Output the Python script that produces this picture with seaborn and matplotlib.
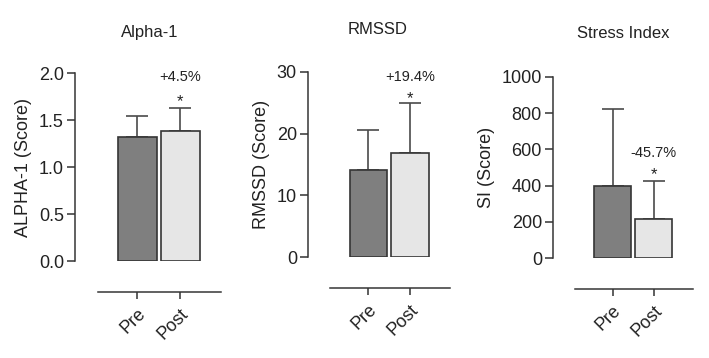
import matplotlib
matplotlib.use("Agg")
import matplotlib.pyplot as plt
import seaborn as sns
import pandas as pd

# ─── data ────────────────────────────────────────────────────────────────────
groups = ["Pre", "Post"]

alpha_mean = [1.32, 1.38]
alpha_sd = [0.22, 0.25]

rmssd_mean = [14.1, 16.9]
rmssd_sd = [6.5, 8.0]

si_mean = [400, 215]
si_sd = [420, 210]

titles = ["Alpha-1", "RMSSD", "Stress Index"]
ylabels = ["ALPHA-1 (Score)", "RMSSD (Score)", "SI (Score)"]
changes = ["+4.5%", "+19.4%", "-45.7%"]
yticks = [[0, 0.5, 1.0, 1.5, 2.0], [0, 10, 20, 30], [0, 200, 400, 600, 800, 1000]]
ytick_fmt = ["{:.1f}", "{:.0f}", "{:.0f}"]

sns.set_style("ticks")
plt.rcParams["font.family"] = ["Liberation Sans", "DejaVu Sans"]
plt.rcParams["text.color"] = "#222222"
plt.rcParams["axes.labelcolor"] = "#222222"
plt.rcParams["xtick.color"] = "#333333"
plt.rcParams["ytick.color"] = "#333333"
plt.rcParams["xtick.labelcolor"] = "#222222"
plt.rcParams["ytick.labelcolor"] = "#222222"

fig = plt.figure(figsize=(7.09, 3.58), dpi=100)

# panel boxes in figure fractions: left, bottom, width, height
boxes = [
    [0.1058, 0.2709, 0.206, 0.525],
    [0.4344, 0.2821, 0.200, 0.517],
    [0.7800, 0.2793, 0.197, 0.506],
]
title_pos = [(150, 32), (378, 30), (623, 33)]
# annotation heights (label, star) in data units
annot_y = [(1.96, 1.70), (29.2, 25.6), (580, 460)]

panels = [
    (alpha_mean, alpha_sd),
    (rmssd_mean, rmssd_sd),
    (si_mean, si_sd),
]

edge = "#353535"
for i, (means, sds) in enumerate(panels):
    ax = fig.add_axes(boxes[i])
    df = pd.DataFrame({"group": groups, "value": means})
    sns.barplot(data=df, x="group", y="value", hue="group",
                palette=["#7f7f7f", "#e6e6e6"], width=0.9,
                edgecolor=edge, linewidth=1.2, legend=False, ax=ax)
    # upper-only SD bars
    ax.errorbar([0, 1], means, yerr=[[0, 0], sds], fmt="none",
                ecolor="#4a4a4a", elinewidth=1.2, capsize=8, capthick=1.2,
                zorder=1)
    for bar in ax.patches:
        bar.set_zorder(2)

    # spines first (moving a spine resets the ticks)
    sns.despine(ax=ax)
    top = yticks[i][-1]
    for s in ["left", "bottom"]:
        ax.spines[s].set_color(edge)
        ax.spines[s].set_linewidth(1.1)
    ax.spines["bottom"].set_position(("outward", 22))
    ax.spines["left"].set_bounds(0, top)
    ax.spines["bottom"].set_bounds(-0.92, 1.95)

    ax.set_xlim(-1.45, 1.95)
    ax.set_ylim(0, top)
    ax.tick_params(axis="y", length=6, width=1.1, pad=2, labelsize=13)
    ax.tick_params(axis="x", length=5, width=1.1, pad=5, labelsize=13)
    ax.set_yticks(yticks[i])
    ax.set_yticklabels([ytick_fmt[i].format(t) for t in yticks[i]], fontsize=13)
    ax.set_xticks([0, 1])
    ax.set_xticklabels(groups, rotation=45, ha="right", rotation_mode="anchor",
                       fontsize=13)
    ax.set_xlabel("")
    ax.set_ylabel(ylabels[i], fontsize=13, labelpad=5)

    ax.text(1, annot_y[i][0], changes[i], ha="center", va="center",
            fontsize=10.5, clip_on=False)
    ax.text(1, annot_y[i][1], "*", ha="center", va="center",
            fontsize=12, clip_on=False)

    tx, ty = title_pos[i]
    fig.text(tx / 709, 1 - ty / 358, titles[i], ha="center", va="center",
             fontsize=12)

fig.savefig("out.png", dpi=100)
